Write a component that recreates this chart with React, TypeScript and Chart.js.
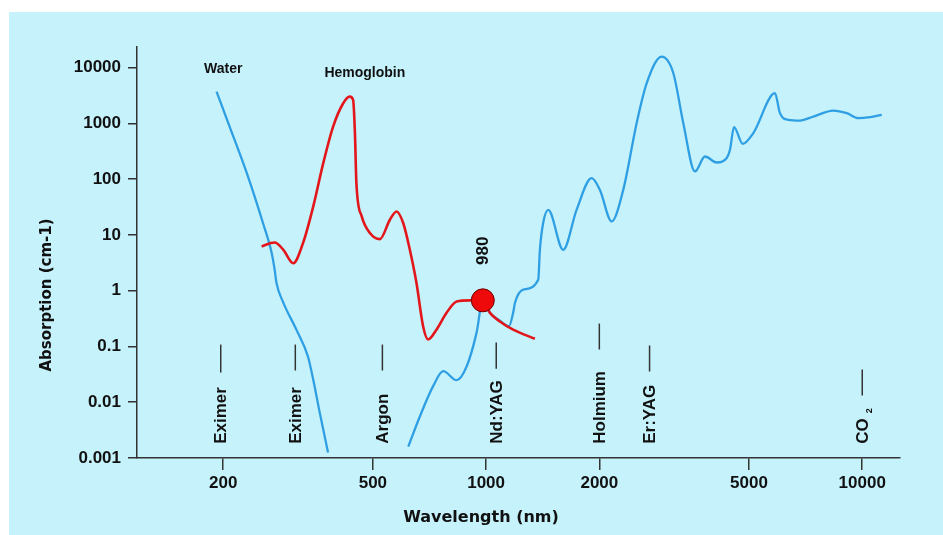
import React, { useEffect, useRef } from "react";
import { Chart, registerables } from "chart.js";

Chart.register(...registerables);

// ---- axis ticks ----
const xTickValues = [200, 500, 1000, 2000, 5000, 10000];
const xTickLabels = ["200", "500", "1000", "2000", "5000", "10000"];
const yTickValues = [0.001, 0.01, 0.1, 1, 10, 100, 1000, 10000];
const yTickLabels = ["0.001", "0.01", "0.1", "1", "10", "100", "1000", "10000"];
const xMin = 118;
const xMax = 12600;
const yMin = 0.001;
const yMax = 23300;

// ---- water absorption (null = gap) ----
const waterWavelengths = [
  192, 208, 231, 255, 269, 274, 277, 289, 313, 336, 347, 361, 380,
  500,
  621, 667, 723, 769, 835, 888, 943, 980, 1024, 1088, 1150, 1180, 1193, 1255, 1376, 1390,
  1418, 1463, 1603, 1740, 1908, 2007, 2157, 2315, 2513, 2673, 2929, 3146, 3344, 3592,
  3818, 4103, 4362, 4450, 4560, 4810, 5133, 5861, 6043, 6360, 6831, 7413, 8378, 9094,
  9763, 10490, 11270,
];
const waterAbsorption = [
  3700, 874, 129, 16.5, 4.8, 2.4, 1.4, 0.61, 0.2, 0.066, 0.0255, 0.0066, 0.00126,
  null,
  0.0016, 0.0056, 0.0194, 0.036, 0.0248, 0.044, 0.175, 0.67, 0.4, 0.29, 0.23, 0.4, 0.6, 1.04, 1.57, 5.4,
  16.3, 28, 5.4, 28, 104, 64, 17.4, 64, 1005, 5230, 15600, 7890, 1005, 137,
  254, 198, 238, 334, 853, 428, 666, 3460, 1518, 1152, 1119, 1319, 1690, 1518,
  1236, 1288, 1415,
];

// ---- hemoglobin absorption ----
const hemoWavelengths = [
  253, 274, 289, 307, 326, 347, 369, 392, 417, 434, 443, 448, 452, 467, 491, 522, 555, 578,
  602, 627, 653, 680, 701, 738, 785, 835, 906, 980, 1024, 1088, 1180, 1348,
];
const hemoAbsorption = [
  6.2, 7.3, 5.4, 3.1, 7.1, 32, 193, 874, 2290, 3010, 2625, 666, 85, 21.4, 10.8, 8.4, 18.7, 26.3,
  16.3, 5.4, 1.37, 0.23, 0.133, 0.2, 0.4, 0.64, 0.67, 0.67, 0.4, 0.28, 0.2, 0.137,
];

// ---- highlighted point ----
const highlightWavelength = [980];
const highlightAbsorption = [0.67];
const highlightLabel = "980";
const highlightLabelAbsorption = 5.2;

// ---- curve labels ----
const curveLabels = ["Water", "Hemoglobin"];
const curveLabelWavelengths = [200, 476];
const curveLabelAbsorption = [9400, 7890];

// ---- laser markers ----
const laserNames = ["Eximer", "Eximer", "Argon", "Nd:YAG", "Holmium", "Er:YAG", "CO"];
const laserSubscripts = ["", "", "", "", "", "", "2"];
const laserWavelengths = [197, 311, 530, 1064, 2000, 2720, 10000];
const laserLineTop = [0.108, 0.108, 0.108, 0.117, 0.257, 0.104, 0.0385];
const laserLineBottom = [0.034, 0.037, 0.037, 0.04, 0.088, 0.0355, 0.0132];
const laserLabelBase = 0.0018;

const yTitle = "Absorption (cm-1)";
const xTitle = "Wavelength (nm)";

const TEXT = "#111";
const AXIS = "#333";
const BLUE = "#2f9fe3";
const RED = "#e3171b";
const SANS = '"Liberation Sans", Arial, Helvetica, sans-serif';
const WIDE = '"DejaVu Sans", Verdana, sans-serif';

const annotationPlugin = {
  id: "annotations",
  afterDatasetsDraw(chart: any) {
    const { ctx, scales } = chart;
    const x = scales.x;
    const y = scales.y;
    ctx.save();

    // laser markers
    laserWavelengths.forEach((w, i) => {
      const px = x.getPixelForValue(w);
      ctx.strokeStyle = AXIS;
      ctx.lineWidth = 1.5;
      ctx.beginPath();
      ctx.moveTo(px, y.getPixelForValue(laserLineTop[i]));
      ctx.lineTo(px, y.getPixelForValue(laserLineBottom[i]));
      ctx.stroke();

      ctx.save();
      ctx.translate(px, y.getPixelForValue(laserLabelBase));
      ctx.rotate(-Math.PI / 2);
      ctx.fillStyle = TEXT;
      ctx.textAlign = "left";
      ctx.textBaseline = "middle";
      ctx.font = `bold 17px ${SANS}`;
      ctx.fillText(laserNames[i], 0, 1);
      if (laserSubscripts[i]) {
        const tw = ctx.measureText(laserNames[i]).width;
        ctx.font = `bold 9px ${SANS}`;
        ctx.fillText(laserSubscripts[i], tw + 5, 7);
      }
      ctx.restore();
    });

    // curve labels
    ctx.fillStyle = TEXT;
    ctx.textAlign = "center";
    ctx.textBaseline = "middle";
    ctx.font = `bold 14px ${SANS}`;
    curveLabels.forEach((t, i) => {
      ctx.fillText(t, x.getPixelForValue(curveLabelWavelengths[i]), y.getPixelForValue(curveLabelAbsorption[i]));
    });

    // 980 label
    ctx.save();
    ctx.translate(x.getPixelForValue(highlightWavelength[0]), y.getPixelForValue(highlightLabelAbsorption));
    ctx.rotate(-Math.PI / 2);
    ctx.font = `bold 17px ${SANS}`;
    ctx.textAlign = "center";
    ctx.textBaseline = "middle";
    ctx.fillText(highlightLabel, 0, 1);
    ctx.restore();

    // axis titles
    ctx.font = `bold 16px ${WIDE}`;
    ctx.textAlign = "center";
    ctx.textBaseline = "middle";
    ctx.fillText(xTitle, 472, 506);
    ctx.save();
    ctx.translate(38, 283);
    ctx.rotate(-Math.PI / 2);
    ctx.font = `bold 15px ${WIDE}`;
    ctx.fillText(yTitle, 0, 0);
    ctx.restore();

    ctx.restore();
  },
};

export default function App() {
  const canvasRef = useRef<HTMLCanvasElement | null>(null);

  useEffect(() => {
    if (!canvasRef.current) return;
    const waterData = waterWavelengths.map((w, i) => ({ x: w, y: waterAbsorption[i] }));
    const hemoData = hemoWavelengths.map((w, i) => ({ x: w, y: hemoAbsorption[i] }));
    const dotData = highlightWavelength.map((w, i) => ({ x: w, y: highlightAbsorption[i] }));

    const chart = new Chart(canvasRef.current, {
      type: "line",
      data: {
        datasets: [
          {
            label: "980 nm",
            data: dotData,
            showLine: false,
            pointRadius: 11.5,
            pointBackgroundColor: "#ee0a0a",
            pointBorderColor: "#6a0000",
            pointBorderWidth: 1,
            order: 0,
          },
          {
            label: "Hemoglobin",
            data: hemoData,
            borderColor: RED,
            borderWidth: 2.6,
            pointRadius: 0,
            cubicInterpolationMode: "monotone",
            order: 1,
          },
          {
            label: "Water",
            data: waterData as any,
            borderColor: BLUE,
            borderWidth: 2.3,
            pointRadius: 0,
            spanGaps: false,
            cubicInterpolationMode: "monotone",
            order: 2,
          },
        ],
      },
      options: {
        animation: false,
        responsive: false,
        events: [],
        layout: { padding: { left: 0, right: 43, top: 35, bottom: 0 } },
        plugins: { legend: { display: false }, tooltip: { enabled: false } },
        scales: {
          x: {
            type: "logarithmic",
            min: xMin,
            max: xMax,
            bounds: "data",
            afterBuildTicks: (scale: any) => {
              scale.ticks = xTickValues.map((v) => ({ value: v }));
            },
            afterFit: (scale: any) => {
              scale.height = 77;
            },
            ticks: {
              autoSkip: false,
              maxRotation: 0,
              padding: 3,
              color: TEXT,
              font: { family: SANS, weight: "bold", size: 17 },
              callback: (_v: any, i: number) => xTickLabels[i],
            },
            grid: {
              drawOnChartArea: false,
              drawTicks: true,
              tickLength: 12,
              color: AXIS,
              lineWidth: 1.5,
            },
            border: { display: true, color: AXIS, width: 1.5 },
          },
          y: {
            type: "logarithmic",
            min: yMin,
            max: yMax,
            bounds: "data",
            afterBuildTicks: (scale: any) => {
              scale.ticks = yTickValues.map((v) => ({ value: v }));
            },
            afterFit: (scale: any) => {
              scale.width = 128;
            },
            ticks: {
              autoSkip: false,
              padding: 7,
              color: TEXT,
              font: { family: SANS, weight: "bold", size: 17 },
              callback: (_v: any, i: number) => yTickLabels[i],
            },
            grid: {
              drawOnChartArea: false,
              drawTicks: true,
              tickLength: 9,
              color: AXIS,
              lineWidth: 1.5,
            },
            border: { display: true, color: AXIS, width: 1.5 },
          },
        },
      },
      plugins: [annotationPlugin],
    });
    return () => chart.destroy();
  }, []);

  return (
    <div style={{ position: "fixed", left: 0, top: 0, width: 943, height: 535, background: "#ffffff" }}>
      <div style={{ position: "absolute", left: 9, top: 12, width: 934, height: 523, background: "#c6f2fb" }}>
        <canvas ref={canvasRef} width={934} height={523} style={{ display: "block", width: 934, height: 523 }} />
      </div>
    </div>
  );
}
